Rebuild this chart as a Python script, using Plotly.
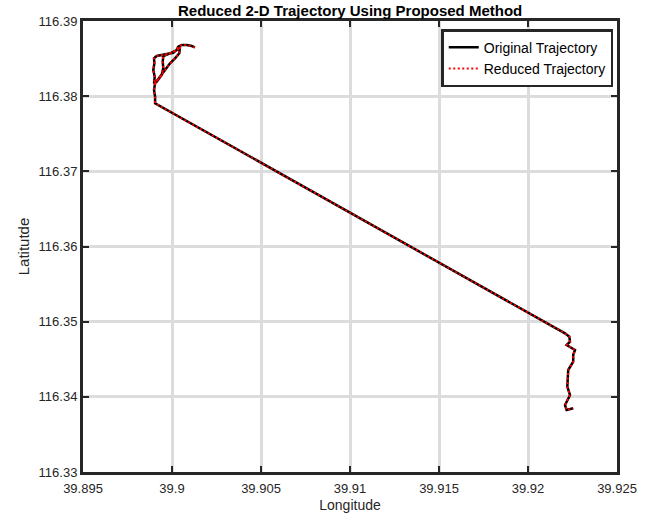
import plotly.graph_objects as go

# Trajectory values (longitude, latitude)
lon = [39.90129, 39.90111, 39.90083, 39.90054, 39.90035, 39.90026, 39.90007,
       39.89970, 39.89942, 39.89914, 39.89899, 39.89901, 39.89895, 39.89903,
       39.89899, 39.89914, 39.89942, 39.89951, 39.89948, 39.89951, 39.89989,
       39.90035, 39.90045, 39.90041, 39.90017, 39.89989, 39.89961, 39.89933,
       39.89905, 39.89899, 39.89905, 39.89905,
       39.92208, 39.92232, 39.92236, 39.92217, 39.92254, 39.92264, 39.92254,
       39.92254, 39.92226, 39.92221, 39.92236, 39.92208, 39.92217, 39.92254]
lat = [116.38650, 116.38667, 116.38681, 116.38681, 116.38658, 116.38614, 116.38578,
       116.38561, 116.38548, 116.38534, 116.38504, 116.38437, 116.38348, 116.38259,
       116.38171, 116.38192, 116.38282, 116.38371, 116.38459, 116.38534, 116.38570,
       116.38624, 116.38658, 116.38570, 116.38504, 116.38437, 116.38348, 116.38259,
       116.38171, 116.38082, 116.37993, 116.37905,
       116.34845, 116.34800, 116.34733, 116.34690, 116.34646, 116.34623, 116.34557,
       116.34467, 116.34357, 116.34135, 116.34024, 116.33891, 116.33825, 116.33847]

x_ticks = [39.895, 39.9, 39.905, 39.91, 39.915, 39.92, 39.925]
x_tick_labels = ["39.895", "39.9", "39.905", "39.91", "39.915", "39.92", "39.925"]
y_ticks = [116.33, 116.34, 116.35, 116.36, 116.37, 116.38, 116.39]
y_tick_labels = ["116.33", "116.34", "116.35", "116.36", "116.37", "116.38", "116.39"]

FONT = "Liberation Sans, Arial, sans-serif"

fig = go.Figure()
fig.add_trace(go.Scatter(x=lon, y=lat, mode="lines", name="Original Trajectory",
                         line=dict(color="black", width=2.5)))
fig.add_trace(go.Scatter(x=lon, y=lat, mode="lines", name="Reduced Trajectory",
                         line=dict(color="#ff0000", width=2, dash="2px,2.5px")))

axis_common = dict(
    showline=True, linecolor="#262626", linewidth=3, mirror="ticks",
    ticks="inside", ticklen=6, tickwidth=2, tickcolor="#262626",
    showgrid=True, gridcolor="#dcdcdc", gridwidth=2.5,
    zeroline=False, automargin=False,
    tickfont=dict(family=FONT, size=13, color="#262626"),
)

fig.update_xaxes(range=[39.895, 39.925], tickvals=x_ticks, ticktext=x_tick_labels,
                 ticklabelstandoff=2,
                 title=dict(text="Longitude", font=dict(family=FONT, size=14, color="#262626"),
                            standoff=6),
                 **axis_common)
fig.update_yaxes(range=[116.33, 116.39], tickvals=y_ticks, ticktext=y_tick_labels,
                 title=dict(text="Latitutde", font=dict(family=FONT, size=15, color="#262626"),
                            standoff=6),
                 **axis_common)

fig.update_layout(
    width=652, height=515,
    margin=dict(l=83, r=35, t=21, b=43),
    paper_bgcolor="white", plot_bgcolor="white",
    title=dict(text="<b>Reduced 2-D Trajectory Using Proposed Method</b>",
               x=0.537, xanchor="center", y=0.979, yanchor="middle",
               font=dict(family=FONT, size=15, color="black")),
    legend=dict(x=0.993, y=0.982, xanchor="right", yanchor="top",
                bgcolor="white", bordercolor="#262626", borderwidth=2.5,
                font=dict(family=FONT, size=14, color="black"),
                tracegroupgap=0, itemwidth=30),
    showlegend=True,
)

fig.write_html("out.html")
